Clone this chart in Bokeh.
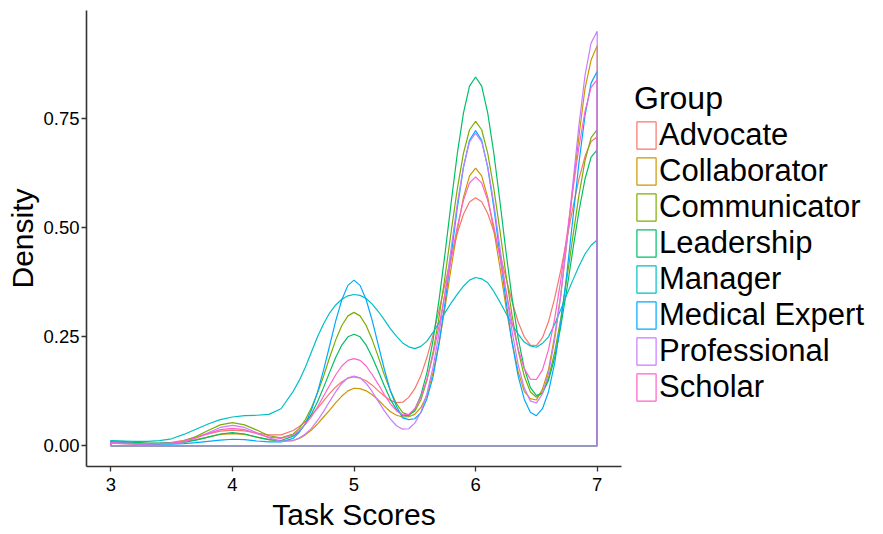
from bokeh.plotting import figure
from bokeh.models import Range1d, FixedTicker, Legend, LegendItem
from bokeh.embed import file_html
from bokeh.resources import INLINE

scores = [3.0, 3.1, 3.2, 3.3, 3.4, 3.5, 3.6, 3.7, 3.8, 3.9,
          4.0, 4.1, 4.2, 4.3, 4.4, 4.5,
          4.55, 4.6, 4.65, 4.7, 4.75, 4.8, 4.85, 4.9, 4.95, 5.0,
          5.05, 5.1, 5.15, 5.2, 5.25, 5.3, 5.35, 5.4, 5.45, 5.5,
          5.55, 5.6, 5.65, 5.7, 5.75, 5.8, 5.85, 5.9, 5.95, 6.0,
          6.05, 6.1, 6.15, 6.2, 6.25, 6.3, 6.35, 6.4, 6.45, 6.5,
          6.55, 6.6, 6.65, 6.7, 6.75, 6.8, 6.85, 6.9, 6.95, 7.0]

groups = ["Advocate", "Collaborator", "Communicator", "Leadership",
          "Manager", "Medical Expert", "Professional", "Scholar"]
colors = ["#F8766D", "#CD9600", "#7CAE00", "#00BE67",
          "#00BFC4", "#00A9FF", "#C77CFF", "#FF61CC"]

advocate = [0.008, 0.0075, 0.0065, 0.0055, 0.0057, 0.008, 0.0127, 0.0197, 0.0274, 0.0336,
            0.036, 0.034, 0.029, 0.025, 0.025, 0.035,
            0.044, 0.055, 0.070, 0.086, 0.103, 0.120, 0.135, 0.147, 0.155, 0.158,
            0.155, 0.149, 0.139, 0.126, 0.114, 0.104, 0.099, 0.100, 0.111, 0.131,
            0.161, 0.203, 0.254, 0.312, 0.373, 0.434, 0.488, 0.531, 0.559, 0.569,
            0.560, 0.533, 0.492, 0.441, 0.385, 0.331, 0.284, 0.250, 0.231, 0.230,
            0.248, 0.285, 0.338, 0.402, 0.474, 0.546, 0.612, 0.664, 0.698, 0.709]
collaborator = [0.006, 0.005, 0.004, 0.004, 0.005, 0.006, 0.009, 0.014, 0.020, 0.026,
                0.028, 0.026, 0.020, 0.014, 0.011, 0.012,
                0.017, 0.025, 0.036, 0.050, 0.066, 0.082, 0.099, 0.114, 0.126, 0.132,
                0.131, 0.126, 0.117, 0.105, 0.091, 0.078, 0.070, 0.066, 0.067, 0.072,
                0.088, 0.115, 0.168, 0.235, 0.320, 0.410, 0.495, 0.570, 0.619, 0.637,
                0.619, 0.570, 0.494, 0.410, 0.318, 0.238, 0.170, 0.125, 0.108, 0.105,
                0.130, 0.175, 0.252, 0.345, 0.465, 0.590, 0.710, 0.820, 0.885, 0.918]
communicator = [0.008, 0.007, 0.005, 0.005, 0.005, 0.007, 0.011, 0.021, 0.035, 0.048,
                0.053, 0.048, 0.036, 0.023, 0.018, 0.027,
                0.040, 0.060, 0.087, 0.121, 0.160, 0.203, 0.243, 0.276, 0.298, 0.306,
                0.298, 0.276, 0.243, 0.204, 0.162, 0.126, 0.096, 0.076, 0.071, 0.079,
                0.105, 0.150, 0.214, 0.296, 0.391, 0.493, 0.590, 0.671, 0.725, 0.744,
                0.725, 0.671, 0.590, 0.494, 0.392, 0.299, 0.219, 0.160, 0.124, 0.111,
                0.122, 0.156, 0.214, 0.291, 0.382, 0.480, 0.575, 0.654, 0.707, 0.725]
leadership = [0.011, 0.010, 0.008, 0.006, 0.006, 0.006, 0.008, 0.013, 0.020, 0.027,
              0.030, 0.027, 0.020, 0.014, 0.012, 0.022,
              0.033, 0.050, 0.073, 0.101, 0.134, 0.169, 0.203, 0.231, 0.250, 0.256,
              0.250, 0.231, 0.203, 0.171, 0.137, 0.106, 0.083, 0.069, 0.069, 0.083,
              0.116, 0.168, 0.242, 0.336, 0.444, 0.560, 0.671, 0.763, 0.825, 0.846,
              0.825, 0.763, 0.671, 0.561, 0.445, 0.338, 0.247, 0.178, 0.134, 0.115,
              0.121, 0.150, 0.202, 0.273, 0.358, 0.450, 0.538, 0.612, 0.662, 0.679]
manager = [0.012, 0.011, 0.010, 0.010, 0.012, 0.016, 0.026, 0.038, 0.050, 0.060,
           0.066, 0.069, 0.070, 0.072, 0.085, 0.125,
           0.150, 0.180, 0.215, 0.250, 0.280, 0.305, 0.323, 0.336, 0.344, 0.347,
           0.345, 0.338, 0.325, 0.308, 0.289, 0.268, 0.251, 0.236, 0.227, 0.223,
           0.228, 0.240, 0.260, 0.283, 0.306, 0.328, 0.348, 0.366, 0.380, 0.386,
           0.383, 0.374, 0.354, 0.330, 0.304, 0.278, 0.256, 0.238, 0.229, 0.226,
           0.235, 0.250, 0.279, 0.312, 0.347, 0.380, 0.412, 0.440, 0.460, 0.472]
medical_expert = [0.008, 0.007, 0.005, 0.004, 0.004, 0.004, 0.005, 0.007, 0.010, 0.013,
                  0.015, 0.014, 0.011, 0.009, 0.009, 0.017,
                  0.031, 0.051, 0.082, 0.123, 0.174, 0.230, 0.287, 0.335, 0.368, 0.380,
                  0.368, 0.335, 0.287, 0.231, 0.175, 0.125, 0.090, 0.064, 0.060, 0.062,
                  0.076, 0.108, 0.158, 0.236, 0.331, 0.439, 0.546, 0.638, 0.701, 0.723,
                  0.701, 0.638, 0.546, 0.439, 0.332, 0.237, 0.160, 0.107, 0.077, 0.069,
                  0.085, 0.124, 0.189, 0.281, 0.394, 0.521, 0.649, 0.758, 0.832, 0.859]
professional = [0.006, 0.005, 0.004, 0.004, 0.005, 0.006, 0.009, 0.018, 0.030, 0.042,
                0.047, 0.042, 0.030, 0.018, 0.010, 0.012,
                0.018, 0.027, 0.040, 0.058, 0.079, 0.102, 0.124, 0.143, 0.156, 0.160,
                0.156, 0.143, 0.124, 0.102, 0.080, 0.061, 0.046, 0.038, 0.039, 0.052,
                0.077, 0.120, 0.180, 0.259, 0.354, 0.455, 0.556, 0.640, 0.697, 0.717,
                0.697, 0.640, 0.556, 0.455, 0.354, 0.262, 0.186, 0.133, 0.103, 0.098,
                0.119, 0.167, 0.242, 0.344, 0.467, 0.602, 0.735, 0.850, 0.924, 0.951]
scholar = [0.007, 0.006, 0.005, 0.005, 0.005, 0.006, 0.010, 0.018, 0.028, 0.037,
           0.040, 0.037, 0.028, 0.020, 0.017, 0.025,
           0.035, 0.049, 0.067, 0.089, 0.114, 0.139, 0.163, 0.183, 0.196, 0.200,
           0.196, 0.183, 0.163, 0.141, 0.117, 0.096, 0.080, 0.071, 0.072, 0.085,
           0.112, 0.153, 0.208, 0.276, 0.352, 0.430, 0.503, 0.563, 0.603, 0.617,
           0.603, 0.563, 0.504, 0.432, 0.356, 0.283, 0.222, 0.177, 0.153, 0.152,
           0.174, 0.221, 0.291, 0.379, 0.481, 0.587, 0.686, 0.767, 0.822, 0.840]

series = [advocate, collaborator, communicator, leadership,
          manager, medical_expert, professional, scholar]

x_ticks = [3, 4, 5, 6, 7]
y_ticks = [0.0, 0.25, 0.5, 0.75]
y_tick_labels = ["0.00", "0.25", "0.50", "0.75"]

FONT = "Liberation Sans"

xmin, xmax = scores[0], scores[-1]
xpad = 0.05 * (xmax - xmin)
ymax = max(max(s) for s in series)
ypad = 0.05 * ymax

p = figure(frame_width=535, frame_height=456,
           output_backend="svg", toolbar_location=None,
           x_range=Range1d(xmin - xpad, xmax + xpad),
           y_range=Range1d(-ypad, ymax + ypad),
           min_border_left=86, min_border_right=10,
           min_border_top=10, min_border_bottom=68)
p.background_fill_color = "white"
p.border_fill_color = "white"
p.outline_line_color = None
p.xgrid.visible = False
p.ygrid.visible = False

renderers = []
for vals, col in zip(series, colors):
    px = scores + [xmax, xmin]
    py = vals + [0.0, 0.0]
    r = p.patch(px, py, fill_color=None, line_color=col, line_width=1.2)
    renderers.append(r)

for ax in (p.xaxis[0], p.yaxis[0]):
    ax.axis_line_color = "#333333"
    ax.axis_line_width = 1.6
    ax.major_tick_line_color = "#333333"
    ax.major_tick_line_width = 1.3
    ax.major_tick_in = 0
    ax.major_tick_out = 5
    ax.minor_tick_line_color = None
    ax.major_label_text_font = FONT
    ax.major_label_text_font_size = "18.5px"
    ax.major_label_text_color = "black"
    ax.axis_label_text_font = FONT
    ax.axis_label_text_font_size = "30px"
    ax.axis_label_text_font_style = "normal"
    ax.axis_label_text_color = "black"

p.xaxis.ticker = FixedTicker(ticks=x_ticks)
p.yaxis.ticker = FixedTicker(ticks=y_ticks)
p.yaxis.major_label_overrides = {t: l for t, l in zip(y_ticks, y_tick_labels)}
p.xaxis.axis_label = "Task Scores"
p.yaxis.axis_label = "Density"
p.xaxis.major_label_standoff = 6
p.xaxis.axis_label_standoff = 4
p.yaxis.major_label_standoff = 2
p.yaxis.axis_label_standoff = 1

items = [LegendItem(label=g, renderers=[r]) for g, r in zip(groups, renderers)]
legend = Legend(items=items, title="Group", location=(13, 61))
legend.title_text_font = FONT
legend.title_text_font_size = "32px"
legend.title_text_font_style = "normal"
legend.title_text_color = "black"
legend.title_standoff = 0
legend.label_text_font = FONT
legend.label_text_font_size = "31px"
legend.label_text_color = "black"
legend.glyph_width = 24
legend.glyph_height = 34
legend.label_height = 34
legend.spacing = 0
legend.label_standoff = 1
legend.padding = 0
legend.margin = 13
legend.border_line_color = None
legend.background_fill_alpha = 0
p.add_layout(legend, "right")

open("out.html", "w").write(file_html(p, INLINE))
